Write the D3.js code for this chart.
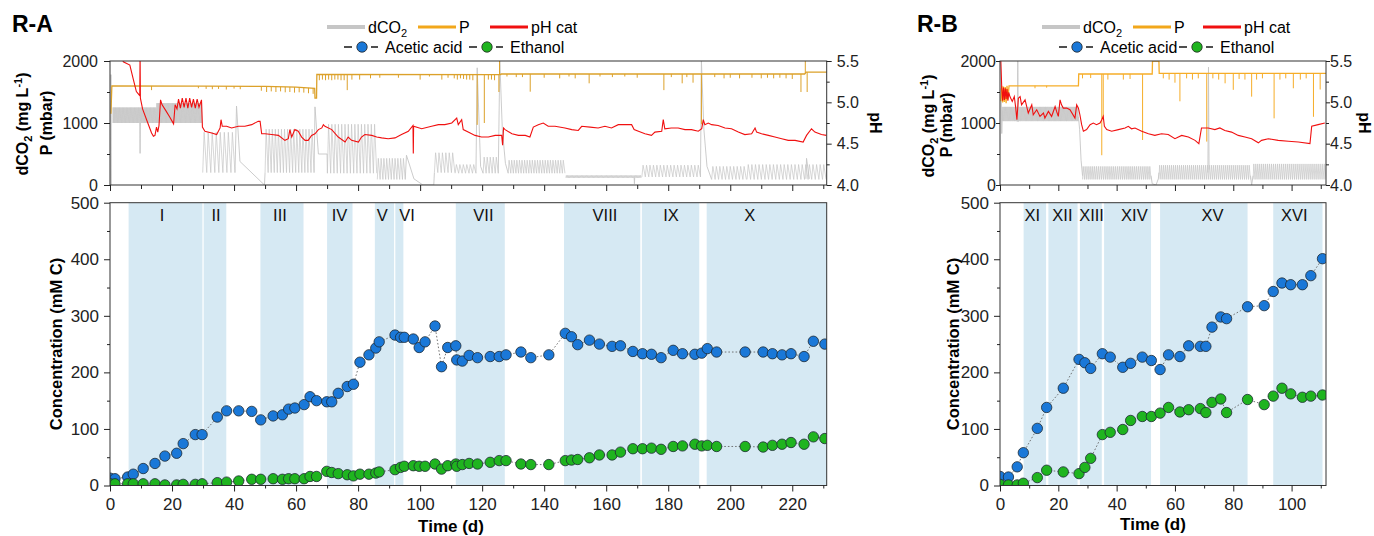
<!DOCTYPE html>
<html>
<head>
<meta charset="utf-8">
<script src="https://cdn.jsdelivr.net/npm/d3@7"></script>
<style>
  body { margin: 0; background: #fff; }
  svg { font-family: "Liberation Sans", Arial, sans-serif; }
</style>
</head>
<body>
<svg width="1374" height="536"></svg>
<script>
// ---------- R-A : sampling (time in d, concentration in mM C) ----------
var raDays = [0, 1.6, 5.7, 7.5, 10.7, 14.5, 17.7, 21.5, 23.6, 27.5, 29.7, 34.6, 37.6, 41.5, 45.7, 48.6, 52.6, 55.6, 57.6, 59.6,
  62.6, 64.5, 66.6, 69.9, 71.5, 73.6, 76.5, 78.5, 80.6, 83.5, 85.7, 86.8, 91.9, 93.7, 94.9, 97.8, 99.7, 101.6, 104.8, 106.9,
  108.9, 111.5, 111.8, 113.6, 115.8, 118.5, 122.6, 125.5, 127.7, 132.5, 135.7, 141.5, 146.8, 148.8, 150.8, 154.6, 157.8, 161.9, 164.6, 168.6,
  171.7, 174.6, 177.7, 181.6, 184.6, 188.6, 190.8, 192.6, 195.6, 204.8, 210.6, 213.6, 216.7, 219.6, 223.8, 226.8, 230.5];
var raAcetic = [13, 12, 15, 20, 30, 39, 52, 57, 74, 90, 90, 121, 132, 132, 131, 116, 123, 125, 135, 137,
  143, 157, 150, 148, 148, 163, 175, 179, 218, 231, 243, 254, 266, 262, 262, 259, 244, 254, 282, 210,
  244, 247, 222, 220, 230, 226, 228, 228, 231, 236, 226, 231, 269, 263, 249, 257, 250, 246, 247, 237,
  233, 232, 226, 239, 233, 232, 234, 242, 236, 236, 236, 233, 231, 233, 228, 255, 250];
var raEthanol = [3, 3, 3, 3, 3, 3, 1, 1, 2, 2, 3, 5, 6, 8, 11, 11, 12, 11, 12, 12,
  12, 16, 16, 25, 23, 21, 19, 17, 20, 20, 22, 24, 28, 32, 34, 35, 34, 34, 38, 29,
  35, 38, 34, 37, 39, 38, 41, 44, 44, 38, 37, 37, 44, 45, 46, 49, 54, 54, 59, 65,
  65, 66, 64, 69, 70, 73, 70, 71, 69, 69, 68, 71, 73, 76, 73, 86, 83];
// phases: start, end, label, label position (d)
var raPhases = [[6, 29.8, "I", 16.8], [30.2, 37.5, "II", 34.2], [48.5, 62.4, "III", 54.8], [70, 78.2, "IV", 74],
  [85.4, 91.6, "V", 87.8], [92, 94.6, "VI", 95.8], [111.5, 127.3, "VII", 120.4], [146.4, 171, "VIII", 159.6],
  [171.5, 190, "IX", 180.9], [192.4, 231.5, "X", 206.3]];

// ---------- R-A : online sensors ----------
var raPh = [[3.5, 5.6], [4.3, 5.49], [6.4, 5.45], [7.5, 5.28], [8.5, 5.13], [9.6, 5.08], [9.7, 5.6], [9.8, 5.05], [10.5, 4.92],
  [11.8, 4.79], [13.4, 4.63], [14, 4.59], [14.5, 4.6], [15, 4.7], [15.4, 4.64], [15.8, 4.72], [16.3, 5.03], [16.8, 4.97],
  [18, 4.9], [19.3, 4.82], [20.5, 4.74], [21, 4.97], [21.6, 4.92], [22.1, 5.04], [22.7, 4.93], [23.3, 5.05], [23.9, 4.94],
  [24.5, 5.05], [25.1, 4.93], [25.7, 5.05], [26.3, 4.94], [26.9, 5.04], [27.5, 4.93], [28.1, 5.04], [28.7, 4.94], [29.5, 5.03],
  [29.8, 4.7], [30.6, 4.65], [32.8, 4.63], [34.4, 4.61], [35.5, 4.69], [35.8, 4.79], [36.2, 4.71], [37.6, 4.71], [39.2, 4.69],
  [41.4, 4.71], [43.5, 4.71], [45.7, 4.73], [47.8, 4.77], [48.4, 4.77], [48.9, 4.62], [50, 4.62], [52.1, 4.61], [54.3, 4.6],
  [56.4, 4.54], [57.5, 4.56], [58, 4.67], [58.6, 4.58], [59.6, 4.67], [60.7, 4.65], [61.8, 4.58], [62.9, 4.54], [63.9, 4.54],
  [65, 4.6], [66.1, 4.62], [67.2, 4.67], [68.3, 4.69], [68.8, 4.73], [69.3, 4.71], [71.5, 4.67], [73.6, 4.58], [75.8, 4.52],
  [76.8, 4.58], [77.9, 4.54], [80.1, 4.52], [81.1, 4.58], [82.2, 4.61], [84.4, 4.6], [86, 4.58], [87.6, 4.57], [89.7, 4.56],
  [91.9, 4.57], [94, 4.61], [96.2, 4.65], [97.7, 4.72], [97.8, 4.38], [97.9, 4.71], [100.5, 4.68], [103.7, 4.71], [105.9, 4.73],
  [108, 4.73], [110.2, 4.75], [111.8, 4.81], [112.3, 4.73], [113.4, 4.79], [113.9, 4.67], [115.5, 4.64], [117.7, 4.6],
  [119.8, 4.58], [122, 4.58], [124.2, 4.6], [126.3, 4.6], [126.6, 4.48], [126.9, 4.69], [127.4, 4.67], [129.6, 4.62],
  [131.7, 4.6], [133.9, 4.6], [135.4, 4.58], [136.5, 4.7], [138.1, 4.73], [139.7, 4.75], [141.3, 4.71], [143.5, 4.71],
  [146.7, 4.69], [148.9, 4.67], [151, 4.66], [152.1, 4.71], [154.8, 4.7], [157.4, 4.69], [159.6, 4.71], [161.7, 4.69],
  [163.9, 4.73], [166, 4.73], [168.2, 4.73], [169, 4.67], [170.4, 4.65], [172.5, 4.62], [174.6, 4.6], [175.7, 4.64],
  [177.9, 4.65], [178.4, 4.79], [178.9, 4.68], [181, 4.69], [183.2, 4.69], [185.4, 4.67], [187.5, 4.67], [189.7, 4.65],
  [190.8, 4.68], [191.3, 4.79], [191.8, 4.73], [192.9, 4.75], [194, 4.73], [196.1, 4.72], [198.3, 4.69], [200.4, 4.68],
  [202.6, 4.64], [204.7, 4.61], [206.9, 4.62], [208, 4.69], [208.5, 4.64], [210.1, 4.62], [212.3, 4.6], [214.4, 4.58],
  [216.6, 4.56], [218.7, 4.54], [220.9, 4.54], [223.5, 4.52], [224.6, 4.6], [226.2, 4.68], [227.3, 4.64], [229.4, 4.61], [231, 4.6]];
// pressure: base level and single spikes [t, mbar]
var raPLevel = [[0.3, 1150], [0.6, 1600], [30, 1595], [50, 1590], [60, 1580], [66, 1560], [66.1, 1400], [66.6, 1400],
  [66.7, 1785], [126, 1780], [126.1, 1790], [224, 1790], [224.5, 1820], [231.5, 1820]];
var raPSpikes = [[13.4, 1530], [28.5, 1560], [31, 1550], [33, 1545], [35, 1550], [37.5, 1540], [40, 1555], [42, 1545],
  [48.8, 1520], [50.5, 1500], [52, 1510], [53.5, 1500], [55, 1510], [56.5, 1495], [58, 1500], [59.5, 1490], [61, 1495],
  [62.5, 1490], [64, 1480], [65.5, 1470], [67.5, 1690], [68.5, 1700], [69.5, 1690], [70.5, 1700], [71.5, 1690], [72.5, 1700],
  [73.5, 1700], [74.5, 1690], [75.5, 1690], [76.5, 1530], [78, 1700], [80.5, 1700], [84, 1720], [87, 1730], [93, 1730],
  [100, 1700], [103, 1750], [107, 1700], [109, 1730], [111, 1720], [112, 1700], [113, 1720], [114, 1710], [115, 1700],
  [116, 1700], [117, 1690], [118.4, 970], [120.7, 1000], [122, 1700], [123, 1700], [124, 1690], [125.4, 1500], [125.6, 2000],
  [128, 1750], [131, 1740], [133, 1740], [135.5, 1505], [140, 1730], [145, 1720], [148, 1750], [150, 1720], [154.5, 1640],
  [158, 1750], [162, 1740], [166, 1750], [170, 1730], [178.6, 1530], [181, 1740], [184.5, 1640], [186, 1740], [188, 1650],
  [190.7, 980], [195, 1740], [198, 1720], [200, 1730], [203, 1720], [207, 1730], [210, 1720], [212, 1730], [214, 1720],
  [216, 1730], [218, 1720], [220, 1710], [222.8, 1500], [224.2, 2000], [224.8, 1500]];
// dissolved CO2: repeated feeding cycles [start, end, low, high, number of cycles]
var raCo2Cycles = [[0.9, 15, 1000, 1250, 55], [15, 29.7, 1000, 1320, 55], [29.9, 40.3, 200, 850, 8],
  [50, 65.8, 200, 900, 16], [70.1, 86, 190, 980, 15], [86.2, 95.2, 90, 430, 10], [104.6, 111.2, 200, 520, 6],
  [111.3, 118, 190, 330, 6], [120.3, 125.2, 190, 450, 5], [128.4, 146.7, 190, 400, 22], [147, 171.3, 115, 155, 60],
  [171.5, 190.4, 130, 320, 17], [194, 205.2, 90, 300, 10], [205.4, 230.9, 90, 330, 22]];
var raCo2Events = [
  [[0.15, 0], [0.3, 1780], [0.45, 0]],
  [[9.6, 1000], [9.7, 510], [9.8, 1000]],
  [[40.3, 200], [40.8, 1274], [41.9, 380], [49.8, 0], [50, 200]],
  [[65.8, 200], [66.1, 1260], [67.2, 500], [70, 500], [70.1, 190]],
  [[95.2, 90], [95.6, 480], [98, 100], [100.9, 0], [104.4, 0], [104.6, 200]],
  [[118, 190], [118.4, 1890], [119.5, 300], [120.3, 190]],
  [[125.2, 190], [125.7, 2000], [126.5, 900], [127.5, 350], [128.4, 190]],
  [[169, 120], [169.1, 20], [169.2, 120]],
  [[190.4, 130], [190.7, 2000], [191.5, 900], [192.5, 300], [194, 90]],
  [[224.4, 100], [224.6, 430], [225.5, 100]]];

// ---------- R-B : sampling ----------
var rbDays = [0, 2.9, 5.9, 8, 12.8, 16, 21.7, 27.1, 29.1, 31.1, 35.1, 37.8, 42.1, 44.8, 48.8, 51.9, 54.9, 57.8, 61.7,
  64.7, 68.7, 70.6, 72.7, 75.7, 77.7, 84.9, 90.6, 93.7, 96.7, 99.7, 103.7, 106.6, 110.6];
var rbAcetic = [16, 15, 33, 58, 101, 138, 172, 223, 217, 207, 233, 227, 209, 216, 227, 221, 205, 231, 228,
  247, 246, 246, 280, 298, 295, 316, 318, 343, 358, 355, 355, 371, 401];
var rbEthanol = [2, 1, 1, 4, 14, 27, 24, 21, 32, 48, 90, 94, 99, 115, 122, 122, 128, 138, 130,
  134, 136, 129, 147, 153, 129, 152, 143, 158, 172, 162, 156, 158, 160];
var rbPhases = [[8.1, 15.8, "XI", 11.1], [16.6, 26.6, "XII", 21.4], [27.4, 34.9, "XIII", 31.4], [35.7, 51.8, "XIV", 46.1],
  [54.9, 84.9, "XV", 72.9], [93.7, 110.6, "XVI", 100.9]];

// ---------- R-B : online sensors ----------
var rbPh = [[0.2, 5.6], [0.6, 5.17], [0.9, 5.02], [1.2, 5.18], [1.5, 5.03], [1.8, 5.17], [2.1, 5.04], [2.4, 5.16], [2.7, 5.02],
  [3.0, 5.12], [3.4, 5.07], [4.2, 5.01], [4.9, 5.07], [5.4, 4.93], [5.8, 4.79], [6.3, 5.05], [6.9, 5.07], [7.4, 4.97],
  [8.6, 5.03], [9.7, 4.87], [10.9, 4.97], [11.4, 4.85], [12.6, 4.91], [13.7, 4.83], [14.9, 4.87], [15.4, 4.81], [16.6, 4.89],
  [17.7, 4.83], [18.9, 4.95], [19.4, 4.89], [20, 4.83], [20.6, 5.03], [21.1, 4.97], [21.7, 4.93], [22.9, 4.93], [24, 4.91],
  [25.7, 4.81], [26.3, 4.97], [26.9, 4.93], [27.4, 4.85], [28, 4.73], [28.6, 4.65], [29.7, 4.67], [30.9, 4.73], [32, 4.75],
  [33.1, 4.73], [34.3, 4.75], [34.9, 4.79], [35.4, 4.83], [35.8, 4.71], [36.6, 4.67], [38.3, 4.65], [40.6, 4.67], [42.9, 4.69],
  [44, 4.71], [45.1, 4.68], [46.3, 4.69], [48.6, 4.65], [50.9, 4.62], [53.1, 4.6], [55.4, 4.62], [57.7, 4.61], [60, 4.56],
  [62.3, 4.6], [64.6, 4.58], [66.9, 4.54], [68.2, 4.5], [69.1, 4.69], [71.4, 4.69], [73.7, 4.67], [75.4, 4.69], [77.1, 4.66],
  [79.4, 4.64], [81.7, 4.6], [84, 4.58], [86.3, 4.56], [88.6, 4.51], [89.7, 4.54], [92, 4.56], [95.4, 4.54], [98.9, 4.53],
  [102.3, 4.52], [106.3, 4.5], [106.9, 4.71], [109.1, 4.73], [111.4, 4.75]];
var rbPLevel = [[0.3, 1350], [0.6, 1600], [0.9, 1330], [1.2, 1590], [1.5, 1340], [1.8, 1580], [2.1, 1320], [2.4, 1600],
  [2.7, 1380], [3.1, 1600], [26.9, 1600], [27, 1790], [52.2, 1790], [52.3, 2000], [54.5, 2000], [54.6, 1800], [112, 1800]];
var rbPSpikes = [[12, 1560], [16, 1570], [28.3, 1720], [31.1, 1725], [34.9, 480], [35.4, 1075], [37, 1700], [42.3, 1700],
  [44.6, 1710], [48.9, 726], [56, 1720], [58, 1700], [60, 1650], [61.7, 1350], [64, 1720], [66, 1700], [68, 1720],
  [70.9, 700], [73, 1720], [75, 1700], [77.2, 1640], [80, 1535], [82, 1710], [84, 1700], [86.3, 1425], [88, 1700],
  [90, 1720], [94, 1075], [96, 1700], [98, 1720], [100.6, 1560], [103, 1700], [105, 1720], [107.5, 1100], [109.8, 1540]];
var rbCo2Cycles = [[0.6, 26.9, 1030, 1260, 90], [28.3, 51.8, 90, 300, 36], [54.5, 85.9, 90, 320, 46], [86.8, 111.8, 90, 340, 37]];
var rbCo2Events = [
  [[0.4, 1560], [0.6, 830], [0.8, 1200]],
  [[5.9, 1020], [6.1, 2000], [6.3, 1020]],
  [[26.9, 1100], [27.3, 900], [27.8, 400], [28.3, 150]],
  [[51.8, 150], [52.2, 20], [53.5, 0], [54.3, 100], [54.5, 200]],
  [[71.3, 200], [71.5, 1900], [71.7, 250]],
  [[85.9, 150], [86.3, 0], [86.8, 150]]];

// ---------- layout ----------
var COL = { co2: "#c6c6c6", ph: "#f01010", ac: "#1a78d8", et: "#1fb41f", phase: "#d6e9f3", axis: "#333", pLegend: "#f2a71b" };
var TOP = { y0: 61, y1: 185 }, BOT = { y0: 202.7, y1: 485.5 };

var reactors = [
  { id: "ra", title: "R-A", titleX: 12, left: 110, right: 826.7, maxT: 231.1, step: 20, last: 220,
    days: raDays, acetic: raAcetic, ethanol: raEthanol, phases: raPhases, ph: raPh,
    pLevel: raPLevel, pSpikes: raPSpikes, co2Cycles: raCo2Cycles, co2Events: raCo2Events, pColor: "#dca12a",
    topPadL: 6, topTickL: 6, topPadR: 5, topTickR: 5,
    co2TitleX: 27.5, pTitleX: 52, titleY: 124, phTitleX: 870, concTitleX: 62, timeX: 451, timeY: 532,
    leg: { line1: [327, 418, 490], line2: [344, 469] } },
  { id: "rb", title: "R-B", titleX: 917, left: 1000, right: 1326, maxT: 111.8, step: 20, last: 100,
    days: rbDays, acetic: rbAcetic, ethanol: rbEthanol, phases: rbPhases, ph: rbPh,
    pLevel: rbPLevel, pSpikes: rbPSpikes, co2Cycles: rbCo2Cycles, co2Events: rbCo2Events, pColor: "#f6ad28",
    topPadL: 0, topTickL: 4, topPadR: 0, topTickR: 4,
    co2TitleX: 934, pTitleX: 952, titleY: 126, phTitleX: 1359, concTitleX: 959, timeX: 1153, timeY: 530,
    leg: { line1: [1042, 1133, 1203], line2: [1059, 1179] } }
];

var svg = d3.select("svg");
var defs = svg.append("defs");

function cyclePoints(c) {
  var w = (c[1] - c[0]) / c[4], pts = [[c[0], c[2]]];
  for (var i = 0; i < c[4]; i++) {
    pts.push([c[0] + w * (i + 0.35), c[3]]);
    pts.push([c[0] + w * (i + 1), c[2]]);
  }
  return pts;
}

function levelAt(levels, t) {
  for (var i = 0; i < levels.length - 1; i++) {
    if (t >= levels[i][0] && t <= levels[i + 1][0]) {
      var f = (t - levels[i][0]) / (levels[i + 1][0] - levels[i][0]);
      return levels[i][1] + f * (levels[i + 1][1] - levels[i][1]);
    }
  }
  return levels[levels.length - 1][1];
}

function styleAxis(a, size) {
  a.attr("font-size", size || 16).attr("font-family", null).style("color", "#222");
  a.select(".domain").remove();
}

function drawReactor(r) {
  var x = d3.scaleLinear().domain([0, r.maxT]).range([r.left, r.right]);
  var yP = d3.scaleLinear().domain([0, 2000]).range([TOP.y1, TOP.y0]);
  var yPh = d3.scaleLinear().domain([4, 5.5]).range([TOP.y1, TOP.y0]);
  var yC = d3.scaleLinear().domain([0, 500]).range([BOT.y1, BOT.y0]);
  var w = r.right - r.left;

  defs.append("clipPath").attr("id", r.id + "-top").append("rect")
    .attr("x", r.left).attr("y", TOP.y0).attr("width", w).attr("height", TOP.y1 - TOP.y0);
  defs.append("clipPath").attr("id", r.id + "-bot").append("rect")
    .attr("x", r.left).attr("y", BOT.y0).attr("width", w).attr("height", BOT.y1 - BOT.y0);

  var g = svg.append("g");

  g.append("text").attr("x", r.titleX).attr("y", 32)
    .attr("font-size", 23).attr("font-weight", "bold").text(r.title);

  // ----- top panel -----
  var top = g.append("g").attr("clip-path", "url(#" + r.id + "-top)");
  var lineP = d3.line().x(function(d) { return x(d[0]); }).y(function(d) { return yP(d[1]); });
  var linePh = d3.line().x(function(d) { return x(d[0]); }).y(function(d) { return yPh(d[1]); });

  r.co2Cycles.forEach(function(c) {
    top.append("path").datum(cyclePoints(c)).attr("d", lineP)
      .attr("fill", "none").attr("stroke", COL.co2).attr("stroke-width", 0.7);
  });
  r.co2Events.forEach(function(e) {
    top.append("path").datum(e).attr("d", lineP)
      .attr("fill", "none").attr("stroke", COL.co2).attr("stroke-width", 0.9);
  });

  top.append("path").datum(r.pLevel).attr("d", lineP)
    .attr("fill", "none").attr("stroke", r.pColor).attr("stroke-width", 1.3);
  top.selectAll(".spike").data(r.pSpikes).enter().append("path")
    .attr("d", function(s) { return lineP([[s[0], levelAt(r.pLevel, s[0])], s]); })
    .attr("stroke", r.pColor).attr("stroke-width", 1).attr("fill", "none");

  top.append("path").datum(r.ph).attr("d", linePh)
    .attr("fill", "none").attr("stroke", COL.ph).attr("stroke-width", 1.1);

  g.append("rect").attr("x", r.left).attr("y", TOP.y0).attr("width", w).attr("height", TOP.y1 - TOP.y0)
    .attr("fill", "none").attr("stroke", COL.axis).attr("stroke-width", 1);

  styleAxis(g.append("g").attr("transform", "translate(" + r.left + ",0)")
    .call(d3.axisLeft(yP).tickValues([0, 1000, 2000]).tickSize(r.topTickL).tickPadding(r.topPadL).tickFormat(d3.format("d"))));
  styleAxis(g.append("g").attr("transform", "translate(" + r.left + ",0)")
    .call(d3.axisLeft(yP).tickValues([500, 1500]).tickSize(3).tickFormat("")));
  styleAxis(g.append("g").attr("transform", "translate(" + r.right + ",0)")
    .call(d3.axisRight(yPh).tickValues([4, 4.5, 5, 5.5]).tickSize(r.topTickR).tickPadding(r.topPadR).tickFormat(d3.format(".1f"))));
  styleAxis(g.append("g").attr("transform", "translate(" + r.right + ",0)")
    .call(d3.axisRight(yPh).tickValues([4.25, 4.75, 5.25]).tickSize(3).tickFormat("")));
  styleAxis(g.append("g").attr("transform", "translate(0," + TOP.y1 + ")")
    .call(d3.axisBottom(x).tickValues(d3.range(0, r.maxT, r.step)).tickSize(6).tickFormat("")));
  styleAxis(g.append("g").attr("transform", "translate(0," + TOP.y1 + ")")
    .call(d3.axisBottom(x).tickValues(d3.range(r.step / 2, r.maxT, r.step)).tickSize(4).tickFormat("")));

  var t1 = g.append("text").attr("transform", "translate(" + r.co2TitleX + "," + r.titleY + ") rotate(-90)")
    .attr("text-anchor", "middle").attr("font-size", 16).attr("font-weight", "bold");
  t1.append("tspan").text("dCO");
  t1.append("tspan").attr("dy", 4).attr("font-size", 11).text("2");
  t1.append("tspan").attr("dy", -4).text(" (mg L");
  t1.append("tspan").attr("dy", -6).attr("font-size", 11).text("-1");
  t1.append("tspan").attr("dy", 6).text(")");
  g.append("text").attr("transform", "translate(" + r.pTitleX + "," + (r.titleY - 1) + ") rotate(-90)")
    .attr("text-anchor", "middle").attr("font-size", 16).attr("font-weight", "bold").text("P (mbar)");
  g.append("text").attr("transform", "translate(" + r.phTitleX + "," + 123 + ") rotate(90)")
    .attr("text-anchor", "middle").attr("font-size", 16).attr("font-weight", "bold").text("pH");

  // ----- legend -----
  var L = r.leg, leg = g.append("g").attr("font-size", 16);
  [[COL.co2, 4, "dCO"], [COL.pLegend, 3, "P"], [COL.ph, 3, "pH cat"]].forEach(function(it, i) {
    var lx = L.line1[i];
    leg.append("line").attr("x1", lx).attr("x2", lx + 38).attr("y1", 27).attr("y2", 27)
      .attr("stroke", it[0]).attr("stroke-width", it[1]);
    var tx = leg.append("text").attr("x", lx + 41).attr("y", 32.5);
    tx.append("tspan").text(it[2]);
    if (i === 0) tx.append("tspan").attr("dy", 4).attr("font-size", 11).text("2");
  });
  [[COL.ac, "Acetic acid"], [COL.et, "Ethanol"]].forEach(function(it, i) {
    var lx = L.line2[i];
    leg.append("line").attr("x1", lx).attr("x2", lx + 8).attr("y1", 47).attr("y2", 47).attr("stroke", "#222").attr("stroke-width", 1.6);
    leg.append("line").attr("x1", lx + 27).attr("x2", lx + 34).attr("y1", 47).attr("y2", 47).attr("stroke", "#222").attr("stroke-width", 1.6);
    leg.append("circle").attr("cx", lx + 18).attr("cy", 47).attr("r", 5.2)
      .attr("fill", it[0]).attr("stroke", "#222").attr("stroke-width", 0.8);
    leg.append("text").attr("x", lx + 41).attr("y", 52.5).text(it[1]);
  });

  // ----- bottom panel -----
  var bot = g.append("g").attr("clip-path", "url(#" + r.id + "-bot)");
  bot.selectAll(".phase").data(r.phases).enter().append("rect")
    .attr("x", function(d) { return x(d[0]); }).attr("width", function(d) { return x(d[1]) - x(d[0]); })
    .attr("y", BOT.y0).attr("height", BOT.y1 - BOT.y0).attr("fill", COL.phase);
  g.selectAll(".phlab" + r.id).data(r.phases).enter().append("text")
    .attr("x", function(d) { return x(d[3]); }).attr("y", 220.5)
    .attr("text-anchor", "middle").attr("font-size", 16.5).attr("fill", "#111")
    .text(function(d) { return d[2]; });

  [[r.acetic, COL.ac], [r.ethanol, COL.et]].forEach(function(s) {
    var pts = r.days.map(function(d, i) { return [d, s[0][i]]; });
    bot.append("path").datum(pts)
      .attr("d", d3.line().x(function(d) { return x(d[0]); }).y(function(d) { return yC(d[1]); }))
      .attr("fill", "none").attr("stroke", "#666").attr("stroke-width", 0.9).attr("stroke-dasharray", "1.6,2");
    bot.selectAll(null).data(pts).enter().append("circle")
      .attr("cx", function(d) { return x(d[0]); }).attr("cy", function(d) { return yC(d[1]); })
      .attr("r", 5.2).attr("fill", s[1]).attr("stroke", "#1d2a33").attr("stroke-width", 0.8);
  });

  g.append("rect").attr("x", r.left).attr("y", BOT.y0).attr("width", w).attr("height", BOT.y1 - BOT.y0)
    .attr("fill", "none").attr("stroke", COL.axis).attr("stroke-width", 1);

  styleAxis(g.append("g").attr("transform", "translate(" + r.left + ",0)")
    .call(d3.axisLeft(yC).tickValues(d3.range(0, 501, 100)).tickSize(6).tickPadding(5)), 17);
  styleAxis(g.append("g").attr("transform", "translate(" + r.left + ",0)")
    .call(d3.axisLeft(yC).tickValues(d3.range(50, 500, 100)).tickSize(3).tickFormat("")));
  styleAxis(g.append("g").attr("transform", "translate(0," + BOT.y1 + ")")
    .call(d3.axisBottom(x).tickValues(d3.range(0, r.last + 1, r.step)).tickSize(6).tickPadding(6)), 17);
  styleAxis(g.append("g").attr("transform", "translate(0," + BOT.y1 + ")")
    .call(d3.axisBottom(x).tickValues(d3.range(r.step / 2, r.maxT, r.step)).tickSize(3).tickFormat("")));

  g.append("text").attr("transform", "translate(" + r.concTitleX + "," + 344 + ") rotate(-90)")
    .attr("text-anchor", "middle").attr("font-size", 16.5).attr("font-weight", "bold").text("Concentration (mM C)");
  g.append("text").attr("x", r.timeX).attr("y", r.timeY)
    .attr("text-anchor", "middle").attr("font-size", 17).attr("font-weight", "bold").text("Time (d)");
}

reactors.forEach(drawReactor);
</script>
</body>
</html>
